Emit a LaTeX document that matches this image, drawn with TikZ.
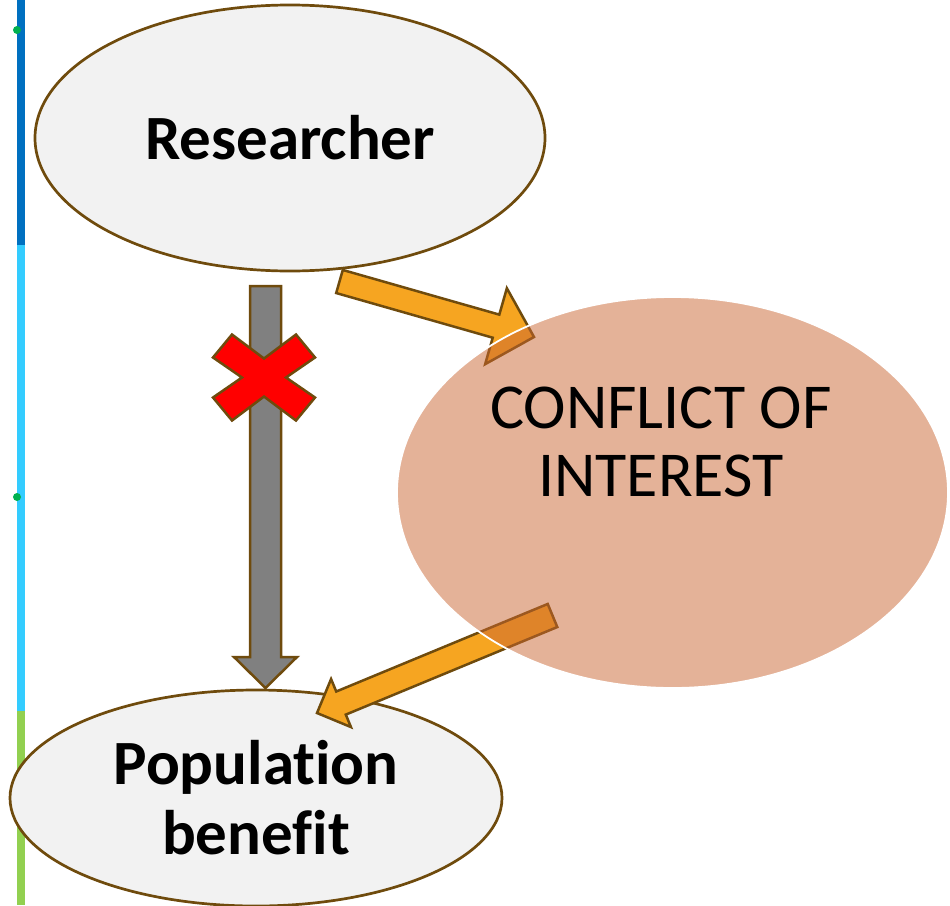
\documentclass[tikz,border=0pt]{standalone}
\usepackage{fontspec}
\setmainfont{Carlito}[Ligatures=NoCommon]
\usetikzlibrary{
  calc, % for the corner points of the block arrows
  shapes.geometric, % for the ellipse shaped nodes
}
\definecolor{rim}{RGB}{111,75,13}
\definecolor{pale}{RGB}{242,242,242}
\definecolor{rust}{RGB}{201,101,49}
\definecolor{amber}{RGB}{246,165,33}
\definecolor{crossred}{RGB}{255,0,0}
\definecolor{darkblue}{RGB}{0,112,192}
\definecolor{skyblue}{RGB}{51,204,255}
\definecolor{leafgreen}{RGB}{146,208,80}
\definecolor{dotgreen}{RGB}{0,176,80}
\tikzset{
  bubble/.style={ % style for the two grey ellipses
    ellipse,draw=rim,line width=2.7pt, % drawn as a brown ellipse
    fill=pale,
    inner sep=0pt, % no padding, the size is set by hand
    font=\bfseries\fontsize{63}{70}\selectfont,
    align=center,
  },
  conflict/.style={ % style for the big see-through ellipse
    ellipse,fill=rust,fill opacity=0.5,
    inner sep=0pt,
    minimum width=551pt,minimum height=391pt,
  },
  blockarr/.style={ % style for the fat arrows
    draw=rim,line width=2.5pt,line join=miter,
  },
}
% fat arrow: style, from, to, half shaft, half head, head length
\newcommand{\blockarrow}[6]{%
  \coordinate (ba-h) at ($(#3)!#6!(#2)$);
  \draw[#1] ($(#2)!#4!90:(#3)$) -- ($(ba-h)!#4!-90:(#2)$)
    -- ($(ba-h)!#5!-90:(#2)$) -- (#3) -- ($(ba-h)!#5!90:(#2)$)
    -- ($(ba-h)!#4!90:(#2)$) -- ($(#2)!#4!-90:(#3)$) -- cycle;
}

\begin{document}
\begin{tikzpicture}[x=1pt,y=-1pt]
	\useasboundingbox (0,0) rectangle (950,905);
	
	% coloured bar on the left
	\fill[darkblue] (17,0) rectangle (25,245);
	\fill[skyblue] (17,245) rectangle (25,711);
	\fill[leafgreen] (17,711) rectangle (25,905);
	\fill[dotgreen] (17,30) circle [radius=4];
	\fill[dotgreen] (17,497) circle [radius=4];
	
	\node (researcher) [bubble, minimum width=510pt, minimum height=266pt] at (290,138) {Researcher};
	
	\node (benefit) [bubble, minimum width=492pt, minimum height=216pt] at (256,798) {Population\\benefit};
	
	% end points of the arrows
	\coordinate (g-tail) at (265.5,286);
	\coordinate (g-tip) at (265.5,688);
	\coordinate (a-tail) at (339.5,281.5);
	\coordinate (a-tip) at (534,337);
	\coordinate (b-tail) at (552.5,615.5);
	\coordinate (b-tip) at (317,713);
	
	\blockarrow{blockarr, fill=gray}{g-tail}{g-tip}{15.5pt}{31.5pt}{31pt}
	
	% red cross over the grey arrow
	\coordinate (cross) at (264,377.5);
	\draw[blockarr, fill=crossred, shift={(cross)}]
		(-51,-20) -- (-32,-43) -- (0,-19) -- (32,-43) -- (51,-20) -- (22,0)
		-- (51,20) -- (32,43) -- (0,19) -- (-32,43) -- (-51,20) -- (-22,0) -- cycle;
	
	\blockarrow{blockarr, fill=amber}{a-tail}{a-tip}{12pt}{39.5pt}{39.5pt}
	\blockarrow{blockarr, fill=amber}{b-tail}{b-tip}{12.5pt}{26pt}{26pt}
	
	\node (conflict) [conflict] at (672.5,492.5) {};
	\draw[white, line width=1.8pt] (conflict.center) ellipse [x radius=275.5, y radius=195.5];
	
	\node (conflict-text) [font=\fontsize{64}{68}\selectfont, align=center] at (661,442) {CONFLICT OF\\INTEREST};
\end{tikzpicture}
\end{document}
